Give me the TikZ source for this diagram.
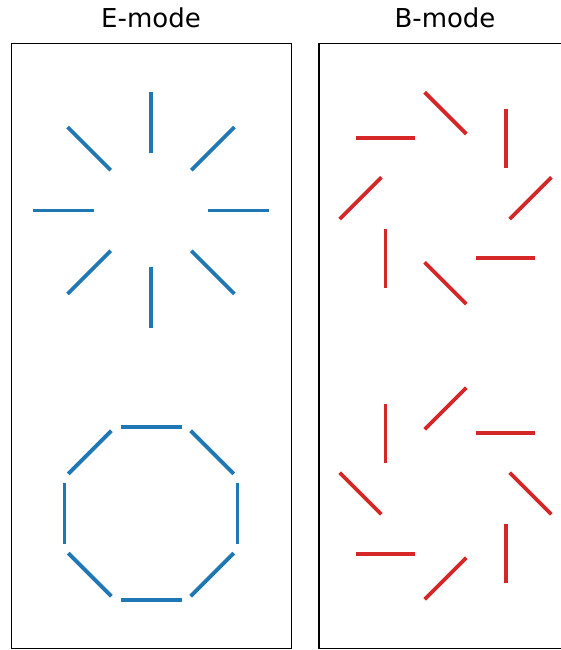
\documentclass[tikz,border=0pt]{standalone}
\usepackage{fontspec}
\setmainfont{DejaVu Sans}
\definecolor{eblue}{HTML}{1F77B4}
\definecolor{bred}{HTML}{D62728}
\tikzset{
  panel/.style={draw=black, line width=1.1pt},
  stickE/.style={draw=eblue, line width=3.8pt, line cap=butt},
  stickB/.style={draw=bred, line width=3.8pt, line cap=butt},
  ttl/.style={font=\fontsize{26}{30}\selectfont, anchor=base, inner sep=0pt}
}
\begin{document}
\begin{tikzpicture}[x=1pt,y=1pt]
\useasboundingbox (0,0) rectangle (561,650);
\fill[white] (0,0) rectangle (561,650);
% titles
\node[ttl] (tE) at (151,622) {E-mode};
\node[ttl] (tB) at (445,622) {B-mode};
% panels
\draw[panel] (11.5,1.5) rectangle (291.5,606.5);
\begin{scope}
\clip (0,0) rectangle (561,650);
\draw[panel] (319,1.5) rectangle (620,606.5);
\end{scope}
% E-mode: radial
\foreach \t in {0,45,...,315}{
  \draw[stickE, shift={(151,439.5)}, shift={(\t:87.5)}] (\t+180:30.5) -- (\t:30.5);
}
% E-mode: tangential
\foreach \t in {0,45,...,315}{
  \draw[stickE, shift={(151,136.5)}, shift={(\t:86.5)}] (\t+270:30.5) -- (\t+90:30.5);
}
% B-mode: top (theta+45)
\foreach \t in {0,45,...,315}{
  \draw[stickB, shift={(445.5,451.8)}, shift={(\t:85)}] (\t+225:29.5) -- (\t+45:29.5);
}
% B-mode: bottom (theta-45)
\foreach \t in {0,45,...,315}{
  \draw[stickB, shift={(445.5,156.5)}, shift={(\t:85)}] (\t+135:29.5) -- (\t-45:29.5);
}
\end{tikzpicture}
\end{document}
